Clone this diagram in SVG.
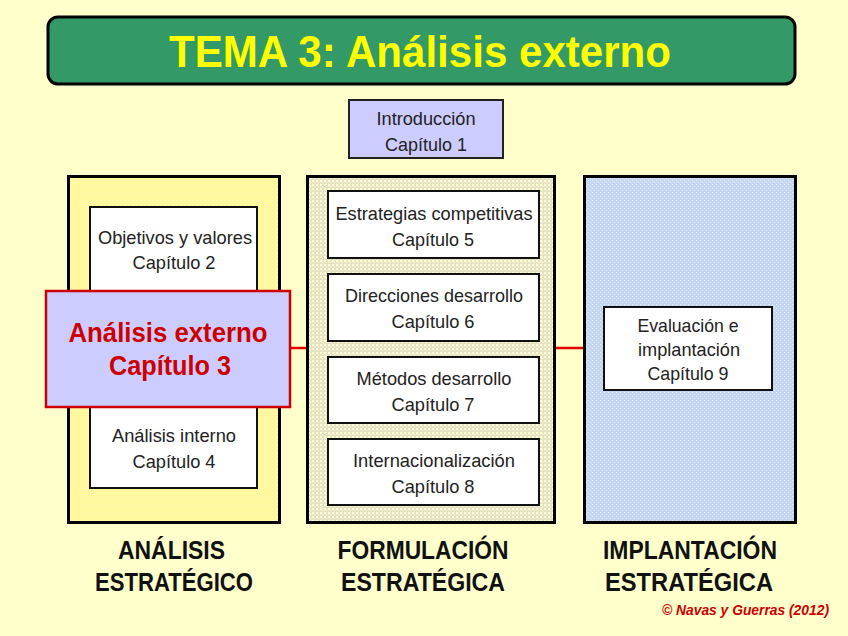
<svg xmlns="http://www.w3.org/2000/svg" width="848" height="636" viewBox="0 0 848 636">
<defs>
<pattern id="pYellow" width="4" height="4" patternUnits="userSpaceOnUse">
<rect width="4" height="4" fill="#FFF799"/>
<rect x="0" y="0" width="1" height="1" fill="#FFFFCC"/>
<rect x="2" y="2" width="1" height="1" fill="#FFFFCC"/>
</pattern>
<pattern id="pBeige" width="4" height="4" patternUnits="userSpaceOnUse">
<rect width="4" height="4" fill="#E6E2C2"/>
<rect x="0" y="0" width="2" height="2" fill="#FFFFD8"/>
<rect x="2" y="2" width="1" height="1" fill="#FFFFD8"/>
</pattern>
<pattern id="pBlue" width="4" height="4" patternUnits="userSpaceOnUse">
<rect width="4" height="4" fill="#C4D6F2"/>
<rect x="0" y="0" width="1" height="1" fill="#E6ECE4"/>
<rect x="2" y="2" width="1" height="1" fill="#E6ECE4"/>
</pattern>
<style>
.panel{stroke:#000;stroke-width:3}
.box{fill:#FFFFFF;stroke:#111;stroke-width:2}
.t{font-family:"Liberation Sans",Arial,sans-serif;font-size:19px;fill:#222;text-anchor:middle}
.lab{font-family:"Liberation Sans",Arial,sans-serif;font-size:25px;font-weight:bold;fill:#111;text-anchor:middle}
.conn{stroke:#E00000;stroke-width:2.5;fill:none}
</style>
</defs>
<rect width="848" height="636" fill="#FFFFCC"/>

<g id="title">
<rect x="48" y="17" width="747" height="67" rx="10" fill="#339966" stroke="#000" stroke-width="3"/>
<text x="420" y="67" font-family="Liberation Sans,Arial,sans-serif" font-size="44" font-weight="bold" fill="#FFFF00" text-anchor="middle" textLength="502" lengthAdjust="spacingAndGlyphs">TEMA 3: Análisis externo</text>
</g>

<g id="intro">
<rect x="349" y="100" width="154" height="58" fill="#CCCCFF" stroke="#222" stroke-width="2"/>
<text class="t" x="426" y="125" textLength="99" lengthAdjust="spacingAndGlyphs">Introducción</text>
<text class="t" x="426" y="151" textLength="82" lengthAdjust="spacingAndGlyphs">Capítulo 1</text>
</g>

<g id="panel-analisis">
<rect class="panel" x="68.5" y="176.5" width="211" height="346" fill="url(#pYellow)"/>
</g>
<g id="panel-formulacion">
<rect class="panel" x="307.5" y="176.5" width="247" height="346" fill="url(#pBeige)"/>
</g>
<g id="panel-implantacion">
<rect class="panel" x="584.5" y="176.5" width="211" height="346" fill="url(#pBlue)"/>
</g>

<g id="connectors">
<line class="conn" x1="290" y1="348" x2="306" y2="348"/>
<line class="conn" x1="556" y1="348" x2="583" y2="348"/>
</g>

<g id="cap2">
<rect class="box" x="90" y="207" width="167" height="100"/>
<text class="t" x="175" y="244" textLength="154" lengthAdjust="spacingAndGlyphs">Objetivos y valores</text>
<text class="t" x="174" y="269" textLength="83" lengthAdjust="spacingAndGlyphs">Capítulo 2</text>
</g>
<g id="cap4">
<rect class="box" x="90" y="390" width="167" height="98"/>
<text class="t" x="174" y="442" textLength="124" lengthAdjust="spacingAndGlyphs">Análisis interno</text>
<text class="t" x="174" y="468" textLength="83" lengthAdjust="spacingAndGlyphs">Capítulo 4</text>
</g>
<g id="cap3">
<rect x="46" y="291" width="244" height="116" fill="#CCCCFF" stroke="#CC0000" stroke-width="2.5"/>
<text x="168" y="342" font-family="Liberation Sans,Arial,sans-serif" font-size="28" font-weight="bold" fill="#CC0000" text-anchor="middle" textLength="199" lengthAdjust="spacingAndGlyphs">Análisis externo</text>
<text x="170" y="375" font-family="Liberation Sans,Arial,sans-serif" font-size="28" font-weight="bold" fill="#CC0000" text-anchor="middle" textLength="122" lengthAdjust="spacingAndGlyphs">Capítulo 3</text>
</g>

<g id="cap5">
<rect class="box" x="328" y="191" width="211" height="67"/>
<text class="t" x="434" y="220" textLength="197" lengthAdjust="spacingAndGlyphs">Estrategias competitivas</text>
<text class="t" x="433" y="246" textLength="82" lengthAdjust="spacingAndGlyphs">Capítulo 5</text>
</g>
<g id="cap6">
<rect class="box" x="328" y="274" width="211" height="67"/>
<text class="t" x="434" y="302" textLength="178" lengthAdjust="spacingAndGlyphs">Direcciones desarrollo</text>
<text class="t" x="433" y="328" textLength="83" lengthAdjust="spacingAndGlyphs">Capítulo 6</text>
</g>
<g id="cap7">
<rect class="box" x="328" y="357" width="211" height="66"/>
<text class="t" x="434" y="385" textLength="155" lengthAdjust="spacingAndGlyphs">Métodos desarrollo</text>
<text class="t" x="433" y="411" textLength="83" lengthAdjust="spacingAndGlyphs">Capítulo 7</text>
</g>
<g id="cap8">
<rect class="box" x="328" y="439" width="211" height="66"/>
<text class="t" x="434" y="467" textLength="162" lengthAdjust="spacingAndGlyphs">Internacionalización</text>
<text class="t" x="433" y="493" textLength="83" lengthAdjust="spacingAndGlyphs">Capítulo 8</text>
</g>

<g id="cap9">
<rect class="box" x="604" y="307" width="168" height="83"/>
<text class="t" x="688" y="332" textLength="101" lengthAdjust="spacingAndGlyphs">Evaluación e</text>
<text class="t" x="689" y="356" textLength="102" lengthAdjust="spacingAndGlyphs">implantación</text>
<text class="t" x="688" y="380" textLength="81" lengthAdjust="spacingAndGlyphs">Capítulo 9</text>
</g>

<g id="labels">
<text class="lab" x="171.5" y="559" textLength="107" lengthAdjust="spacingAndGlyphs">ANÁLISIS</text>
<text class="lab" x="174" y="591" textLength="158" lengthAdjust="spacingAndGlyphs">ESTRATÉGICO</text>
<text class="lab" x="423" y="559" textLength="171" lengthAdjust="spacingAndGlyphs">FORMULACIÓN</text>
<text class="lab" x="423" y="591" textLength="164" lengthAdjust="spacingAndGlyphs">ESTRATÉGICA</text>
<text class="lab" x="690" y="559" textLength="174" lengthAdjust="spacingAndGlyphs">IMPLANTACIÓN</text>
<text class="lab" x="689" y="591" textLength="168" lengthAdjust="spacingAndGlyphs">ESTRATÉGICA</text>
</g>
<text x="829" y="615" font-family="Liberation Sans,Arial,sans-serif" font-size="14" font-weight="bold" font-style="italic" fill="#CC0000" text-anchor="end" textLength="167" lengthAdjust="spacingAndGlyphs">© Navas y Guerras (2012)</text>
</svg>
